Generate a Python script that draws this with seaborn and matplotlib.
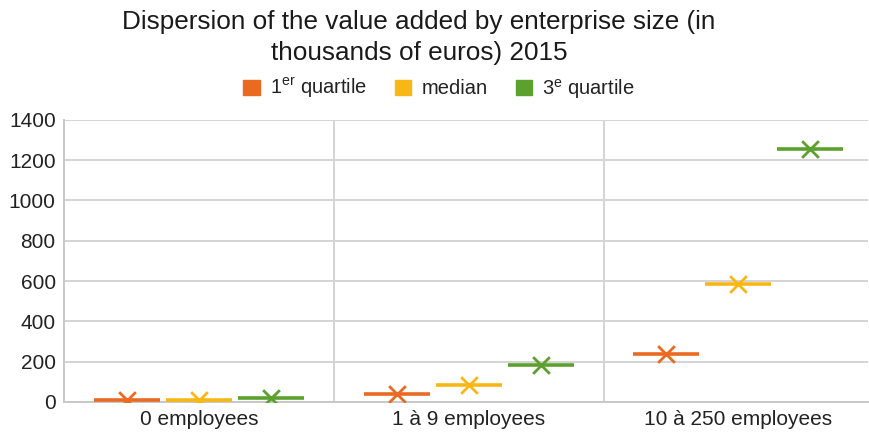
import matplotlib
matplotlib.use("Agg")
import matplotlib.pyplot as plt
import seaborn as sns
import pandas as pd
from matplotlib.patches import Patch

categories = ["0 employees", "1 à 9 employees", "10 à 250 employees"]
series = ["1er quartile", "median", "3e quartile"]
q1 = [8, 38, 240]
median = [10, 85, 587]
q3 = [18, 186, 1257]
legend_labels = ["1$^{\\mathregular{er}}$ quartile", "median", "3$^{\\mathregular{e}}$ quartile"]
colors = ["#EA6A22", "#F9B716", "#5CA12E"]
yticks = [0, 200, 400, 600, 800, 1000, 1200, 1400]

rows = []
for name, vals in zip(series, [q1, median, q3]):
    for c, v in zip(categories, vals):
        rows.append({"category": c, "series": name, "value": v})
df = pd.DataFrame(rows)

sns.set_theme(style="white")
plt.rcParams["font.family"] = ["Liberation Sans", "DejaVu Sans"]

fig = plt.figure(figsize=(8.69, 4.36), dpi=100)
ax = fig.add_axes([0.0737, 0.078, 0.925, 0.647])

pal = dict(zip(series, colors))
LW_LINE, LW_X = 2.6, 2.0
sns.stripplot(data=df, x="category", y="value", hue="series", hue_order=series,
              order=categories, palette=pal, dodge=True, jitter=False,
              marker="_", size=47, linewidth=LW_LINE, legend=False, ax=ax, zorder=3)
n1 = len(ax.collections)
sns.stripplot(data=df, x="category", y="value", hue="series", hue_order=series,
              order=categories, palette=pal, dodge=True, jitter=False,
              marker="x", size=12, linewidth=LW_X, legend=False, ax=ax, zorder=4)
for i, coll in enumerate(ax.collections):
    fc = coll.get_facecolors()
    coll.set_edgecolors(fc)
    coll.set_linewidths(LW_LINE if i < n1 else LW_X)

ax.set_ylim(0, 1400)
ax.set_xlim(-0.5, 2.48)
ax.set_yticks(yticks)
ax.set_yticklabels([str(t) for t in yticks], fontsize=15, color="#222222")
ax.set_xticks(range(len(categories)))
ax.set_xticklabels(categories, fontsize=15, color="#222222")
ax.set_xticks([0.5, 1.5], minor=True)
ax.tick_params(axis="both", which="both", length=0, pad=6)
ax.grid(axis="y", which="major", color="#d4d4d4", linewidth=1.4, zorder=0)
ax.grid(axis="x", which="minor", color="#d4d4d4", linewidth=1.4, zorder=0)
ax.set_axisbelow(True)
ax.set_xlabel("")
ax.set_ylabel("")
for s in ["top", "right"]:
    ax.spines[s].set_visible(False)
for s in ["left", "bottom"]:
    ax.spines[s].set_color("#c8c8c8")
    ax.spines[s].set_linewidth(1.4)

fig.text(0.482, 0.978, "Dispersion of the value added by enterprise size (in\nthousands of euros) 2015",
         ha="center", va="top", fontsize=18.8, color="#1a1a1a", linespacing=1.4)

handles = [Patch(facecolor=c, edgecolor=c) for c in colors]
fig.legend(handles, legend_labels, loc="center", bbox_to_anchor=(0.505, 0.797), ncol=3,
           frameon=False, fontsize=14.5, handlelength=0.8, handleheight=0.8,
           handletextpad=0.5, columnspacing=1.4, labelcolor="#222222")

fig.savefig("out.png", dpi=100)
